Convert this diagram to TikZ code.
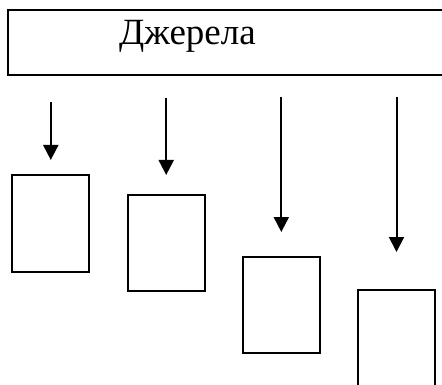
\documentclass[tikz,border=0pt]{standalone}
\usepackage{fontspec}
\setmainfont{Liberation Serif}
\usetikzlibrary{arrows.meta}
\tikzset{
    frame/.style={draw, line width=2pt, inner sep=0pt},
    cell/.style={frame, minimum width=77pt, minimum height=96pt},
    feed/.style={line width=2pt, -{Triangle[length=15pt, width=15pt]}}
}

\begin{document}
\begin{tikzpicture}[x=1pt, y=-1pt]
    \useasboundingbox (0,0) rectangle (442,385);

    % sources bar on top, runs past the right edge
    \node[frame, minimum width=444pt, minimum height=65pt] (src) at (230,42.5) {};
    \node[anchor=base, font=\fontsize{37}{40}\selectfont] (srctext) at (187.5,45) {Джерела};

    % four boxes, each one lower than the last
    \node[cell] (c1) at (50.8,223.5) {};
    \node[cell] (c2) at (166.2,242.7) {};
    \node[cell] (c3) at (281.3,305) {};
    \node[cell] (c4) at (396.5,338) {};

    % arrows hang above the boxes
    \coordinate (s1) at (50.8,102);   \coordinate (e1) at (50.8,160);
    \coordinate (s2) at (166.2,98);   \coordinate (e2) at (166.2,175);
    \coordinate (s3) at (281.3,97);   \coordinate (e3) at (281.3,232);
    \coordinate (s4) at (396.5,97);   \coordinate (e4) at (396.5,252);

    \foreach \i in {1,...,4}
        \draw[feed] (s\i) -- (e\i);
\end{tikzpicture}
\end{document}
